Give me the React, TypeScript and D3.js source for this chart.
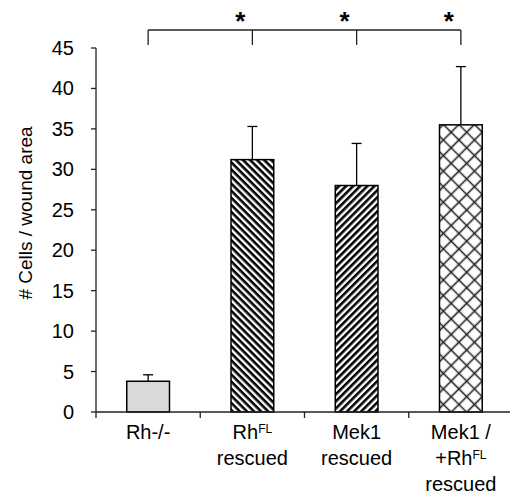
import * as d3 from 'd3';

const categories = ['Rh-/-', 'RhFL rescued', 'Mek1 rescued', 'Mek1 / +RhFL rescued'];
const means = [3.8, 31.2, 28.0, 35.5];
const errors = [0.8, 4.1, 5.2, 7.2];
const significant = [false, true, true, true];
const yTicks = [0, 5, 10, 15, 20, 25, 30, 35, 40, 45];

// label lines, parts marked sup are drawn as superscript
const labelLines = [
    [[{ t: 'Rh-/-' }]],
    [[{ t: 'Rh' }, { t: 'FL', sup: true }], [{ t: 'rescued' }]],
    [[{ t: 'Mek1' }], [{ t: 'rescued' }]],
    [[{ t: 'Mek1 /' }], [{ t: '+Rh' }, { t: 'FL', sup: true }], [{ t: 'rescued' }]],
];

const fills = ['#d9d9d9', 'url(#stripeDown)', 'url(#stripeUp)', 'url(#cross)'];

const App = () => {
    const width = 510;
    const height = 496;
    const font = 'Arial, "Liberation Sans", sans-serif';

    const y = d3.scaleLinear().domain([0, 45]).range([412, 48]);
    const x = d3.scaleBand().domain(categories).range([96, 513]).padding(0);
    const barW = x.bandwidth() * 0.41;
    const cx = (c: string) => (x(c) as number) + x.bandwidth() / 2;

    return (
        <svg width={width} height={height} style={{ position: 'absolute', left: 0, top: 0 }}>
            <defs>
                <pattern id="stripeDown" patternUnits="userSpaceOnUse" width="10" height="5" patternTransform="rotate(45)">
                    <rect width="10" height="5" fill="#fff" />
                    <rect width="10" height="2.6" fill="#000" />
                </pattern>
                <pattern id="stripeUp" patternUnits="userSpaceOnUse" width="10" height="5" patternTransform="rotate(-45)">
                    <rect width="10" height="5" fill="#fff" />
                    <rect width="10" height="2.6" fill="#000" />
                </pattern>
                <pattern id="cross" patternUnits="userSpaceOnUse" width="11" height="11" patternTransform="rotate(45)">
                    <rect width="11" height="11" fill="#fff" />
                    <path d="M0,5.5H11M5.5,0V11" stroke="#222" strokeWidth="1.6" />
                </pattern>
            </defs>
            <rect width={width} height={height} fill="#fff" />

            {/* bars */}
            {categories.map((c, i) => (
                <rect
                    key={c}
                    x={cx(c) - barW / 2}
                    y={y(means[i])}
                    width={barW}
                    height={y(0) - y(means[i])}
                    fill={fills[i]}
                    stroke="#000"
                    strokeWidth={1.5}
                />
            ))}

            {/* error bars */}
            {categories.map((c, i) => (
                <g key={'e' + c} stroke="#000" strokeWidth={1.3}>
                    <line x1={cx(c)} x2={cx(c)} y1={y(means[i])} y2={y(means[i] + errors[i])} />
                    <line x1={cx(c) - 5} x2={cx(c) + 5} y1={y(means[i] + errors[i])} y2={y(means[i] + errors[i])} />
                </g>
            ))}

            {/* y axis */}
            <line x1={96} x2={96} y1={y(45)} y2={y(0)} stroke="#222" strokeWidth={1.3} />
            {yTicks.map((t) => (
                <g key={t}>
                    <line x1={91} x2={96} y1={y(t)} y2={y(t)} stroke="#222" strokeWidth={1.3} />
                    <text x={74} y={y(t)} dy="0.35em" textAnchor="end" fontFamily={font} fontSize={20}>
                        {t}
                    </text>
                </g>
            ))}
            <text
                transform={`translate(32, 213) rotate(-90)`}
                textAnchor="middle"
                fontFamily={font}
                fontSize={19}
            >
                # Cells / wound area
            </text>

            {/* x axis */}
            <line x1={96} x2={510} y1={y(0)} y2={y(0)} stroke="#222" strokeWidth={1.3} />
            {categories.map((c) => (
                <line key={'t' + c} x1={x(c)} x2={x(c)} y1={y(0)} y2={y(0) + 6} stroke="#222" strokeWidth={1.3} />
            ))}
            {categories.map((c, i) => (
                <g key={'l' + c}>
                    {labelLines[i].map((parts, j) => (
                        <text key={j} x={cx(c)} y={439 + j * 26} textAnchor="middle" fontFamily={font} fontSize={20}>
                            {parts.map((p, k) =>
                                p.sup ? (
                                    <tspan key={k} fontSize={12} dy={-6}>
                                        {p.t}
                                    </tspan>
                                ) : (
                                    <tspan key={k}>{p.t}</tspan>
                                )
                            )}
                        </text>
                    ))}
                </g>
            ))}

            {/* significance bracket */}
            <line x1={cx(categories[0])} x2={cx(categories[3])} y1={30} y2={30} stroke="#222" strokeWidth={1.3} />
            {categories.map((c) => (
                <line key={'b' + c} x1={cx(c)} x2={cx(c)} y1={30} y2={45} stroke="#222" strokeWidth={1.3} />
            ))}
            {categories.map((c, i) =>
                significant[i] ? (
                    <text key={'s' + c} x={cx(c) - 12} y={30} textAnchor="middle" fontFamily={font} fontSize={26} fontWeight="bold">
                        *
                    </text>
                ) : null
            )}
        </svg>
    );
};

export default App;
